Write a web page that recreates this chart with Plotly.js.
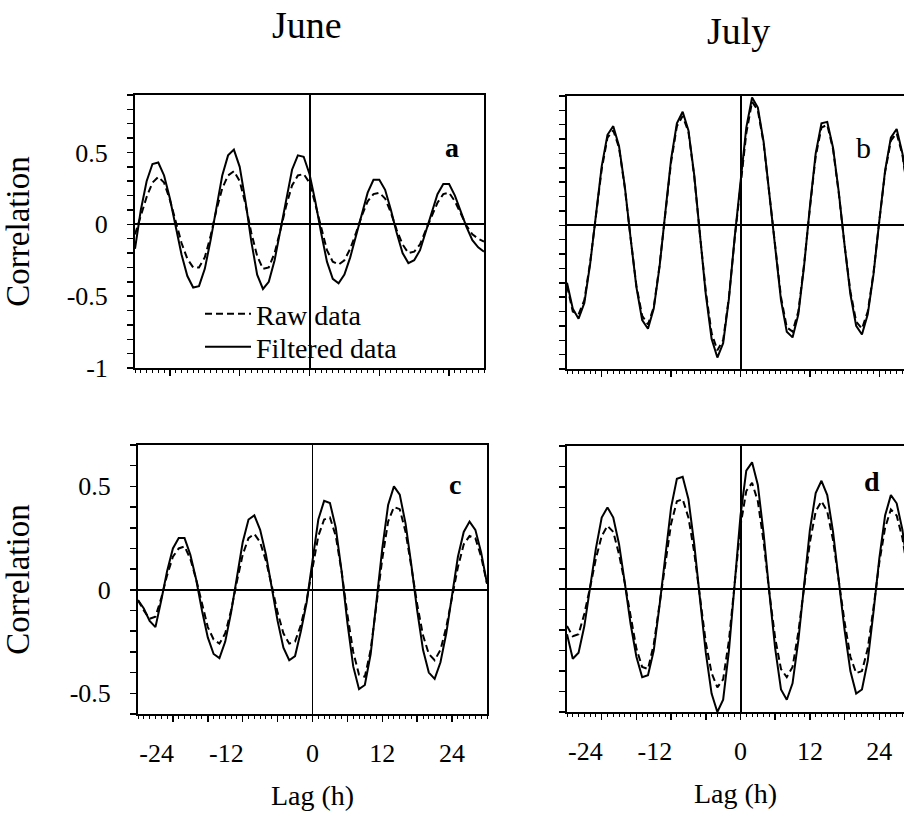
<!DOCTYPE html>
<html>
<head>
<meta charset="utf-8">
<script src="https://cdn.plot.ly/plotly-3.0.1.min.js"></script>
<style>html,body{margin:0;padding:0;background:#fff;}#chart{width:904px;height:828px;}</style>
</head>
<body>
<div id="chart"></div>
<script>
// Lag in hours
const lags = [-30,-29,-28,-27,-26,-25,-24,-23,-22,-21,-20,-19,-18,-17,-16,-15,-14,-13,-12,-11,-10,-9,-8,-7,-6,-5,-4,-3,-2,-1,0,1,2,3,4,5,6,7,8,9,10,11,12,13,14,15,16,17,18,19,20,21,22,23,24,25,26,27,28,29,30];

// Panel a: June (upper)
const juneA_filtered = [-0.17,0.10,0.30,0.42,0.43,0.34,0.18,-0.02,-0.21,-0.36,-0.44,-0.43,-0.31,-0.11,0.13,0.34,0.48,0.52,0.40,0.16,-0.12,-0.35,-0.45,-0.40,-0.25,-0.04,0.19,0.38,0.48,0.47,0.35,0.16,-0.06,-0.26,-0.38,-0.41,-0.35,-0.23,-0.08,0.08,0.22,0.31,0.31,0.24,0.10,-0.06,-0.20,-0.27,-0.25,-0.18,-0.05,0.09,0.21,0.28,0.28,0.20,0.09,-0.02,-0.11,-0.16,-0.19];
const juneA_raw = [-0.07,0.06,0.19,0.29,0.33,0.29,0.17,0.02,-0.13,-0.24,-0.30,-0.30,-0.23,-0.08,0.10,0.25,0.34,0.37,0.30,0.14,-0.06,-0.22,-0.31,-0.30,-0.20,-0.04,0.13,0.27,0.34,0.35,0.29,0.14,-0.03,-0.18,-0.26,-0.28,-0.25,-0.17,-0.06,0.06,0.16,0.21,0.22,0.18,0.08,-0.04,-0.14,-0.20,-0.19,-0.14,-0.04,0.06,0.15,0.21,0.22,0.16,0.07,-0.01,-0.07,-0.10,-0.12];

// Panel b: July (upper)
const julyB_filtered = [-0.40,-0.58,-0.65,-0.54,-0.27,0.07,0.41,0.63,0.69,0.55,0.27,-0.09,-0.43,-0.66,-0.72,-0.58,-0.29,0.09,0.46,0.71,0.79,0.66,0.35,-0.07,-0.48,-0.79,-0.92,-0.82,-0.51,-0.08,0.28,0.68,0.89,0.82,0.58,0.22,-0.17,-0.52,-0.74,-0.78,-0.62,-0.28,0.13,0.50,0.71,0.72,0.54,0.23,-0.14,-0.48,-0.70,-0.76,-0.62,-0.34,0.03,0.38,0.61,0.67,0.50,0.22,-0.12];
const julyB_raw = [-0.42,-0.60,-0.62,-0.52,-0.26,0.06,0.39,0.61,0.66,0.54,0.26,-0.09,-0.42,-0.63,-0.69,-0.57,-0.28,0.08,0.44,0.69,0.76,0.65,0.34,-0.07,-0.46,-0.75,-0.87,-0.80,-0.50,-0.09,0.26,0.64,0.86,0.80,0.57,0.21,-0.16,-0.50,-0.71,-0.74,-0.60,-0.27,0.12,0.48,0.68,0.70,0.53,0.22,-0.14,-0.46,-0.67,-0.72,-0.60,-0.33,0.03,0.37,0.59,0.64,0.49,0.21,-0.12];

// Panel c: June (lower)
const juneC_filtered = [-0.05,-0.09,-0.15,-0.18,-0.05,0.09,0.20,0.25,0.25,0.17,0.05,-0.10,-0.23,-0.31,-0.33,-0.25,-0.11,0.07,0.23,0.34,0.36,0.29,0.17,0.01,-0.15,-0.28,-0.34,-0.32,-0.20,-0.06,0.14,0.34,0.43,0.42,0.30,0.09,-0.16,-0.37,-0.48,-0.46,-0.31,-0.06,0.20,0.41,0.50,0.46,0.32,0.12,-0.10,-0.29,-0.40,-0.43,-0.35,-0.21,-0.02,0.16,0.28,0.33,0.29,0.18,0.03];
const juneC_raw = [-0.05,-0.10,-0.14,-0.13,-0.04,0.07,0.16,0.20,0.21,0.15,0.05,-0.07,-0.18,-0.24,-0.26,-0.21,-0.10,0.04,0.17,0.25,0.27,0.23,0.14,0.02,-0.11,-0.21,-0.26,-0.25,-0.17,-0.05,0.11,0.26,0.34,0.35,0.26,0.09,-0.12,-0.30,-0.41,-0.42,-0.29,-0.07,0.15,0.33,0.40,0.39,0.28,0.11,-0.07,-0.22,-0.31,-0.34,-0.29,-0.18,-0.03,0.11,0.22,0.26,0.25,0.16,0.03];

// Panel d: July (lower)
const julyD_filtered = [-0.22,-0.34,-0.31,-0.18,0.01,0.20,0.35,0.40,0.35,0.22,0.03,-0.17,-0.33,-0.43,-0.42,-0.30,-0.08,0.17,0.40,0.54,0.55,0.44,0.22,-0.05,-0.31,-0.51,-0.60,-0.54,-0.30,0.03,0.36,0.58,0.62,0.51,0.27,-0.02,-0.29,-0.49,-0.54,-0.46,-0.25,0.02,0.29,0.47,0.53,0.46,0.28,0.04,-0.20,-0.40,-0.51,-0.49,-0.35,-0.11,0.15,0.36,0.46,0.42,0.29,0.08,-0.15];
const julyD_raw = [-0.18,-0.23,-0.22,-0.12,0.01,0.15,0.26,0.31,0.28,0.17,0.03,-0.14,-0.29,-0.38,-0.39,-0.27,-0.07,0.14,0.32,0.43,0.44,0.35,0.18,-0.04,-0.26,-0.41,-0.48,-0.44,-0.25,0.03,0.31,0.48,0.52,0.43,0.23,-0.02,-0.24,-0.39,-0.43,-0.38,-0.21,0.01,0.23,0.38,0.43,0.38,0.24,0.04,-0.16,-0.33,-0.41,-0.40,-0.29,-0.09,0.13,0.30,0.39,0.36,0.25,0.07,-0.12];

// Tick labels
const lagTickVals = [-24,-18,-12,-6,0,6,12,18,24];
const lagTickText = ['-24\u00a0\u00a0\u00a0\u00a0\u00a0','','-12\u00a0\u00a0\u00a0\u00a0\u00a0','','0','','12','','24'];
const corrTickValsUpper = [-1,-0.9,-0.8,-0.7,-0.6,-0.5,-0.4,-0.3,-0.2,-0.1,0,0.1,0.2,0.3,0.4,0.5,0.6,0.7,0.8,0.9];
const corrTickTextUpper = ['-1','','','','','-0.5','','','','','0','','','','','0.5','','','',''];
const corrTickValsLower = [-0.6,-0.5,-0.4,-0.3,-0.2,-0.1,0,0.1,0.2,0.3,0.4,0.5,0.6,0.7];
const corrTickTextLower = ['','-0.5','','','','','0','','','','','0.5','',''];
const seriesNames = ['Raw data','Filtered data'];
const columnTitles = ['June','July'];
const panelLetters = ['a','b','c','d'];

const FONT = 'Liberation Serif, Times New Roman, serif';

function mkTrace(y, xa, ya, dashed, legendName, showleg, legendRef) {
  return {
    x: lags, y: y, xaxis: xa, yaxis: ya, type: 'scatter', mode: 'lines',
    name: legendName, showlegend: showleg, legend: legendRef,
    line: {color: '#000', width: 2, dash: dashed ? '7px,4px' : 'solid'},
    hoverinfo: 'skip'
  };
}

const traces = [
  mkTrace(juneA_raw, 'x', 'y', true, seriesNames[0], true, 'legend'),
  mkTrace(juneA_filtered, 'x', 'y', false, seriesNames[1], true, 'legend2'),
  mkTrace(julyB_raw, 'x2', 'y2', true, seriesNames[0], false, 'legend'),
  mkTrace(julyB_filtered, 'x2', 'y2', false, seriesNames[1], false, 'legend'),
  mkTrace(juneC_raw, 'x3', 'y3', true, seriesNames[0], false, 'legend'),
  mkTrace(juneC_filtered, 'x3', 'y3', false, seriesNames[1], false, 'legend'),
  mkTrace(julyD_raw, 'x4', 'y4', true, seriesNames[0], false, 'legend'),
  mkTrace(julyD_filtered, 'x4', 'y4', false, seriesNames[1], false, 'legend')
];

function xAx(domain, range, labels, anchor, zw) {
  return {
    domain: domain, range: range, anchor: anchor,
    showline: true, linecolor: '#000', linewidth: 2, mirror: true,
    showgrid: false, zeroline: true, zerolinecolor: '#000', zerolinewidth: zw,
    tickmode: 'array', tickvals: lagTickVals, ticktext: lagTickText,
    showticklabels: labels, ticks: 'outside', ticklen: 6, tickwidth: 1.5, tickcolor: '#000',
    minor: {tickmode: 'linear', tick0: 0, dtick: 1, ticks: 'outside', ticklen: 3, tickwidth: 1, tickcolor: '#000', showgrid: false},
    tickfont: {family: FONT, size: 26, color: '#000'},
    ticklabelstandoff: 9,
    title: labels ? {text: 'Lag (h)', font: {family: FONT, size: 28, color: '#000'}, standoff: 18} : {text: ''},
    fixedrange: true
  };
}
function yAx(domain, range, vals, text, labels, anchor, mirror) {
  return {
    domain: domain, range: range, anchor: anchor,
    showline: true, linecolor: '#000', linewidth: 2, mirror: mirror,
    showgrid: false, zeroline: true, zerolinecolor: '#000', zerolinewidth: 2,
    tickmode: 'array', tickvals: vals, ticktext: text,
    showticklabels: labels, ticks: 'outside', ticklen: 6, tickwidth: 1.5, tickcolor: '#000',
    tickfont: {family: FONT, size: 26, color: '#000'},
    ticklabelstandoff: 14,
    title: labels ? {text: 'Correlation', font: {family: FONT, size: 33, color: '#000'}, standoff: 38} : {text: ''},
    fixedrange: true
  };
}

const layout = {
  width: 904, height: 828,
  margin: {l: 0, r: 0, t: 0, b: 0, pad: 0},
  paper_bgcolor: '#fff', plot_bgcolor: 'rgba(0,0,0,0)',
  font: {family: FONT, color: '#000'},
  xaxis: xAx([135/904, 484/904], [-30, 30], false, 'y', 2),
  yaxis: yAx([460/828, 733/828], [-1, 0.9], corrTickValsUpper, corrTickTextUpper, true, 'x', true),
  xaxis2: xAx([567/904, 1], [-30, 28.27], false, 'y2', 2),
  yaxis2: yAx([459/828, 732/828], [-1, 0.9], corrTickValsUpper, corrTickTextUpper, false, 'x2', false),
  xaxis3: xAx([138/904, 487/904], [-30, 30], true, 'y3', 1),
  yaxis3: yAx([114/828, 383/828], [-0.6, 0.7], corrTickValsLower, corrTickTextLower, true, 'x3', true),
  xaxis4: xAx([567/904, 1], [-30, 28.27], true, 'y4', 2),
  yaxis4: yAx([116/828, 382/828], [-0.6, 0.7], corrTickValsLower, corrTickTextLower, false, 'x4', false),
  legend: {x: 200/904, y: (828-314)/828, xanchor: 'left', yanchor: 'middle', bgcolor: 'rgba(0,0,0,0)', borderwidth: 0,
           font: {family: FONT, size: 28, color: '#000'}, itemwidth: 46},
  legend2: {x: 200/904, y: (828-347)/828, xanchor: 'left', yanchor: 'middle', bgcolor: 'rgba(0,0,0,0)', borderwidth: 0,
           font: {family: FONT, size: 28, color: '#000'}, itemwidth: 46},
  annotations: [
    {text: columnTitles[0], x: 307/904, y: (828-25)/828, xref: 'paper', yref: 'paper', showarrow: false, xanchor: 'center', yanchor: 'middle', font: {family: FONT, size: 38, color: '#000'}},
    {text: columnTitles[1], x: 738/904, y: (828-31)/828, xref: 'paper', yref: 'paper', showarrow: false, xanchor: 'center', yanchor: 'middle', font: {family: FONT, size: 38, color: '#000'}},
    {text: '<b>' + panelLetters[0] + '</b>', x: 452/904, y: (828-130)/828, xref: 'paper', yref: 'paper', showarrow: false, font: {family: FONT, size: 28, color: '#000'}},
    {text: panelLetters[1], x: 873/904, y: (828-129)/828, xref: 'paper', yref: 'paper', showarrow: false, font: {family: FONT, size: 30, color: '#000'}},
    {text: '<b>' + panelLetters[2] + '</b>', x: 455/904, y: (828-485)/828, xref: 'paper', yref: 'paper', showarrow: false, font: {family: FONT, size: 28, color: '#000'}},
    {text: '<b>' + panelLetters[3] + '</b>', x: 882/904, y: (828-482)/828, xref: 'paper', yref: 'paper', showarrow: false, font: {family: FONT, size: 28, color: '#000'}}
  ]
};

Plotly.newPlot('chart', traces, layout, {staticPlot: true, displayModeBar: false});
</script>
</body>
</html>
